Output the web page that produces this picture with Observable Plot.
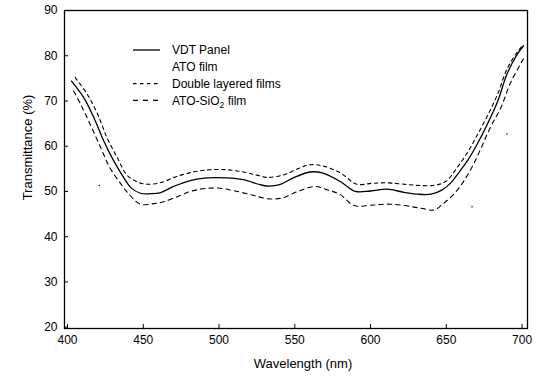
<!DOCTYPE html>
<html><head><meta charset="utf-8">
<script src="https://cdn.jsdelivr.net/npm/d3@7"></script>
<script src="https://cdn.jsdelivr.net/npm/@observablehq/plot@0.6"></script>
<style>
body{margin:0;background:#fff}
#chart{width:540px;height:376px}
</style>
</head><body><div id="chart"></div>
<script>
const xTicks = [400, 450, 500, 550, 600, 650, 700];
const yTicks = [20, 30, 40, 50, 60, 70, 80, 90];
const xTitle = "Wavelength (nm)";
const yTitle = "Transmittance (%)";
const seriesNames = ["VDT Panel", "ATO film", "Double layered films", "ATO-SiO2 film"];

// VDT Panel (solid)
const vdtWavelength = [402.6, 410.8, 417.4, 424, 430.6, 437.2, 441.6, 448, 455, 461, 470, 481, 492, 505, 516, 527, 532, 540, 549, 560, 568, 580, 590, 600, 611, 622, 631, 640, 647, 653, 659, 664, 670, 677, 684, 690, 697, 701];
const vdtTransmittance = [74.4, 70.7, 66.3, 61.1, 56.7, 53.0, 50.9, 49.6, 49.5, 49.7, 51.1, 52.4, 53.0, 53.0, 52.6, 51.5, 51.2, 51.5, 53.0, 54.3, 54.1, 52.2, 50.0, 50.1, 50.5, 49.8, 49.4, 49.4, 50.3, 51.9, 54.5, 56.8, 60.2, 64.8, 70.0, 75.9, 80.4, 82.2];

// Double layered films (upper dashed)
const doubleWavelength = [405, 413, 420, 426, 433, 439, 446, 453, 461, 472, 483, 494, 505, 516, 525, 532, 543, 552, 560, 569, 580, 591, 601, 611, 622, 633, 643, 650, 657, 664, 670, 677, 684, 690, 697, 701];
const doubleTransmittance = [75.2, 71.5, 67.0, 61.9, 57.4, 53.7, 52.1, 51.6, 51.9, 53.3, 54.3, 54.8, 54.8, 54.3, 53.6, 53.1, 53.7, 55.0, 55.9, 55.6, 54.1, 51.6, 51.8, 51.9, 51.6, 51.3, 51.4, 52.3, 55.2, 58.6, 62.2, 66.6, 71.6, 77.0, 80.9, 82.5];

// ATO-SiO2 film (lower dashed)
const sio2Wavelength = [404, 408.6, 415, 422, 428, 436, 440, 448, 457, 462, 470, 481, 492, 501, 512, 523, 532, 541, 552, 563, 571, 580, 589, 602, 611, 622, 633, 642, 648, 655, 661, 667, 673, 679, 686, 692, 699, 701];
const sio2Transmittance = [72.2, 69.3, 64.8, 59.6, 55.2, 51.3, 49.6, 47.2, 47.3, 47.6, 48.5, 50.0, 50.7, 50.7, 50.0, 49.1, 48.4, 48.5, 50.0, 51.1, 50.4, 49.3, 46.9, 47.0, 47.2, 46.9, 46.3, 45.9, 47.3, 49.4, 52.0, 55.4, 59.6, 64.1, 68.5, 73.7, 78.2, 79.3];

// ATO film (only faint isolated dots survive)
const atoWavelength = [421, 667, 690];
const atoTransmittance = [51.3, 46.6, 62.7];

const rows = (ws, ts) => ws.map((w, i) => ({w, t: ts[i]}));
const vdtRows = rows(vdtWavelength, vdtTransmittance);
const doubleRows = rows(doubleWavelength, doubleTransmittance);
const sio2Rows = rows(sio2Wavelength, sio2Transmittance);
const atoRows = rows(atoWavelength, atoTransmittance);

const font = "'Liberation Sans', Arial, sans-serif";
const W = 540, H = 376, mL = 64, mR = 13, mT = 10, mB = 48;
const tickLen = 4;

const plot = Plot.plot({
  width: W,
  height: H,
  marginLeft: mL,
  marginRight: mR,
  marginTop: mT,
  marginBottom: mB,
  x: {domain: [398, 703.6]},
  y: {domain: [19.7, 90]},
  style: {fontFamily: font, fontSize: "12px", color: "#000", background: "#fff"},
  marks: [
    Plot.frame({stroke: "#000", strokeWidth: 1.3}),
    Plot.axisX({ticks: xTicks, tickSize: 0, tickPadding: 7, tickFormat: d => String(d), label: null}),
    Plot.axisY({ticks: yTicks, tickSize: 0, tickPadding: 7, tickFormat: d => String(d), label: null}),
    Plot.tickX(xTicks, {x: d => d, stroke: "#000", strokeWidth: 1, insetTop: H - mT - mB - tickLen}),
    Plot.tickY(yTicks, {y: d => d, stroke: "#000", strokeWidth: 1, insetRight: W - mL - mR - tickLen}),
    Plot.line(vdtRows, {x: "w", y: "t", curve: "catmull-rom", stroke: "#000", strokeWidth: 1.3}),
    Plot.line(doubleRows, {x: "w", y: "t", curve: "catmull-rom", stroke: "#000", strokeWidth: 1.1, strokeDasharray: "3.5,3.5"}),
    Plot.line(sio2Rows, {x: "w", y: "t", curve: "catmull-rom", stroke: "#000", strokeWidth: 1.1, strokeDasharray: "4.5,4"}),
    Plot.dot(atoRows, {x: "w", y: "t", r: 0.8, fill: "#000"}),
    Plot.text([xTitle], {text: d => d, frameAnchor: "bottom", textAnchor: "middle", lineAnchor: "middle", dx: 7, dy: 35, fontSize: 13}),
    Plot.text([yTitle], {text: d => d, frameAnchor: "left", textAnchor: "middle", lineAnchor: "middle", dx: -37, dy: -22, rotate: -90, fontSize: 13})
  ]
});
document.getElementById("chart").appendChild(plot);

// Legend
const legendStyles = [
  {dash: null, sample: true},
  {dash: null, sample: false},
  {dash: "3.5,3.5", sample: true},
  {dash: "5,5", sample: true}
];
const svg = d3.select(plot);
const lg = svg.append("g").attr("font-family", font).attr("font-size", 12)
  .attr("fill", "#000").attr("text-anchor", "start");
seriesNames.forEach((name, i) => {
  const y = 50 + i * 16.8;
  const st = legendStyles[i];
  if (st.sample) {
    lg.append("line").attr("x1", 133).attr("x2", 160).attr("y1", y).attr("y2", y)
      .attr("stroke", "#000").attr("stroke-width", st.dash ? 1.1 : 1.3)
      .attr("stroke-dasharray", st.dash);
  }
  const t = lg.append("text").attr("x", 172).attr("y", y).attr("dy", "0.35em");
  const m = name.match(/^(.*SiO)2(.*)$/);
  if (m) {
    t.append("tspan").text(m[1]);
    t.append("tspan").attr("font-size", 8.5).attr("dy", "3").text("2");
    t.append("tspan").attr("dy", "-3").text(m[2]);
  } else {
    t.text(name);
  }
});
</script>
</body></html>
